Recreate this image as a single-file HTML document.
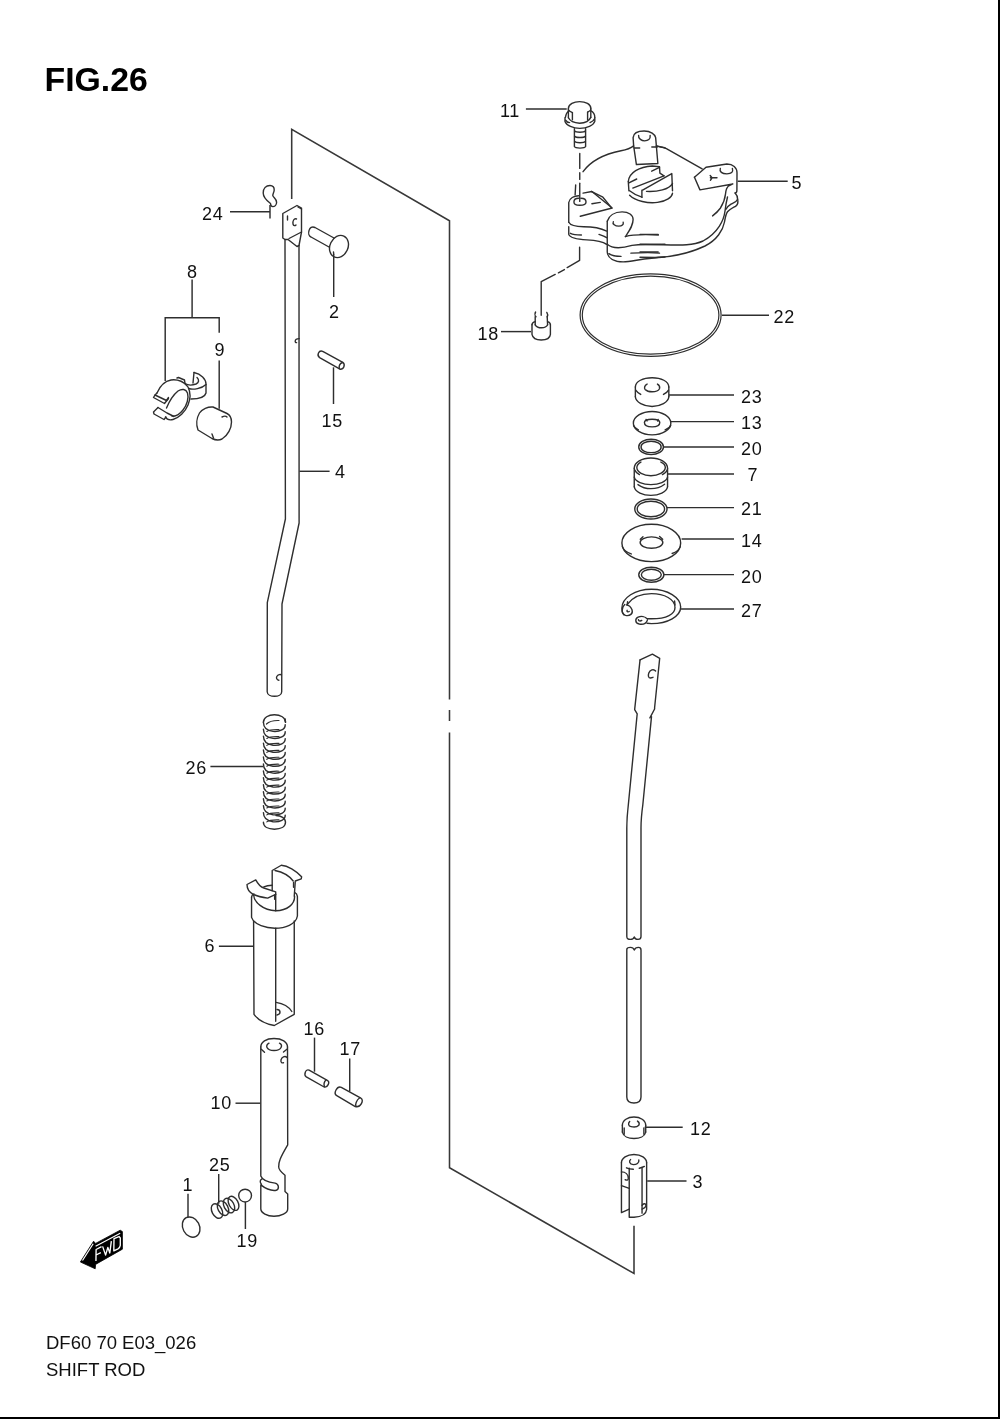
<!DOCTYPE html>
<html><head><meta charset="utf-8">
<style>
html,body{margin:0;padding:0;background:#fff;}
body{width:1000px;height:1419px;overflow:hidden;position:relative;}
svg{position:absolute;left:0;top:0;will-change:transform;}
text{font-family:"Liberation Sans",sans-serif;fill:#111;}
</style></head><body>
<svg width="1000" height="1419" viewBox="0 0 1000 1419">
<g id="frame" fill="none" stroke="#383838" stroke-width="1.55">
<rect x="998" y="0" width="2" height="1419" fill="#000" stroke="none"/>
<rect x="0" y="1417" width="1000" height="2" fill="#000" stroke="none"/>
<polyline points="291.7,199 291.7,129.4 449.5,220.8 449.5,699.5"/>
<line x1="449.5" y1="710" x2="449.5" y2="721"/>
<polyline points="449.5,732.5 449.5,1167.7 634,1273.5 634,1225.7"/>
</g>
<text x="44.5" y="91.3" font-size="33.8" font-weight="bold" style="fill:#000">FIG.26</text>
<text x="46" y="1349" font-size="18.5">DF60 70 E03_026</text>
<text x="46" y="1376" font-size="18.5">SHIFT ROD</text>
<g id="leaders" fill="none" stroke="#2e2e2e" stroke-width="1.45">
<line x1="230" y1="211.8" x2="270" y2="211.8"/><line x1="270" y1="205" x2="270" y2="218.6"/>
<line x1="333.7" y1="254" x2="333.7" y2="297"/>
<polyline points="165.2,381 165.2,317.8 219.2,317.8 219.2,332.8"/>
<line x1="192.1" y1="279.4" x2="192.1" y2="317.8"/>
<line x1="219.2" y1="360.4" x2="219.2" y2="408.7"/>
<line x1="333.5" y1="367.3" x2="333.5" y2="404"/>
<line x1="299.5" y1="471.3" x2="329.6" y2="471.3"/>
<line x1="210.4" y1="766.5" x2="263.4" y2="766.5"/>
<line x1="218.9" y1="946.3" x2="253.7" y2="946.3"/>
<line x1="235.5" y1="1103.2" x2="260.5" y2="1103.2"/>
<line x1="314.5" y1="1037.6" x2="314.5" y2="1071.7"/>
<line x1="349.7" y1="1058.5" x2="349.7" y2="1091.5"/>
<line x1="218.7" y1="1174" x2="218.7" y2="1203.7"/>
<line x1="188" y1="1193.8" x2="188" y2="1217"/>
<line x1="245.4" y1="1202" x2="245.4" y2="1229"/>
<line x1="525.9" y1="108.9" x2="566.7" y2="108.9"/>
<line x1="737.7" y1="181.3" x2="787.7" y2="181.3"/>
<line x1="722" y1="315.3" x2="769" y2="315.3"/>
<line x1="501" y1="331.6" x2="531" y2="331.6"/>
<line x1="669" y1="395" x2="734" y2="395"/>
<line x1="671" y1="421.6" x2="734" y2="421.6"/>
<line x1="663.6" y1="447" x2="734" y2="447"/>
<line x1="667.6" y1="474" x2="734" y2="474"/>
<line x1="667" y1="507.6" x2="734" y2="507.6"/>
<line x1="681.6" y1="539" x2="734" y2="539"/>
<line x1="663.6" y1="574.6" x2="734" y2="574.6"/>
<line x1="681" y1="609" x2="734" y2="609"/>
<line x1="644.7" y1="1127.3" x2="682.7" y2="1127.3"/>
<line x1="647.2" y1="1181" x2="686.5" y2="1181"/>
</g>
<g id="labels" font-size="18" letter-spacing="0.7">
<text x="202" y="220">24</text>
<text x="329" y="317.9">2</text>
<text x="187" y="277.5">8</text>
<text x="214.5" y="356.3">9</text>
<text x="321.5" y="426.5">15</text>
<text x="335" y="478.2">4</text>
<text x="185.5" y="774">26</text>
<text x="204.5" y="952.2">6</text>
<text x="210.5" y="1108.9">10</text>
<text x="303.5" y="1035.4">16</text>
<text x="339.5" y="1054.5">17</text>
<text x="209" y="1171.2">25</text>
<text x="182.5" y="1191">1</text>
<text x="236.5" y="1247.1">19</text>
<text x="500" y="117.2">11</text>
<text x="791.5" y="189.3">5</text>
<text x="773.5" y="322.5">22</text>
<text x="477.5" y="339.5">18</text>
<text x="741" y="402.5">23</text>
<text x="741" y="429.1">13</text>
<text x="741" y="454.5">20</text>
<text x="747.5" y="481.1">7</text>
<text x="741" y="514.9">21</text>
<text x="741" y="546.5">14</text>
<text x="741" y="582.5">20</text>
<text x="741" y="616.9">27</text>
<text x="690" y="1134.5">12</text>
<text x="692.5" y="1187.9">3</text>
</g>

<g id="partsL" fill="none" stroke="#2e2e2e" stroke-width="1.4" stroke-linejoin="round" stroke-linecap="round">
<!-- clip 24 -->
<path d="M270.5,203.5 C266.5,200.5 263.2,197.5 263.2,193 C263.2,188.5 266,185.5 270,185.5 C273,185.5 274.3,187.5 274.2,190 C274.1,192.3 272.6,193.8 272.8,195.6 C273.3,197.5 276.6,199 276.6,202.2 C276.6,205 274.6,206.6 272.8,206.6 C271.3,206.6 270.6,205.3 270.5,203.5"/>
<!-- rod 4 block -->
<path d="M282.8,213.5 L297,205.5 L301.5,208 L301.5,232 L299,245.5 L297,246.5 L288,239.5 L285,239.5 L282.8,238 Z"/>
<path d="M289,238.5 L301.5,232"/>
<path d="M287.5,216 L287.5,220"/>
<path d="M296.5,219 C294,218 292.5,221 293,224 C293.5,226 295,226 296,225"/>
<path d="M298,207 L301.5,209"/>
<!-- rod 4 -->
<path d="M285,239.5 L285.4,519 L267.3,602.6 L267.2,691.7 C267.2,694.8 271,696.3 274.5,696.3 C278,696.3 281.7,694.8 281.7,691.7 L282,604 L299.1,523 L299,245.5"/>
<path d="M299.2,338.6 C297,338.6 295.3,339.8 295.2,341.2 C295.2,342.3 296,342.8 296.6,342.6"/>
<path d="M281.5,674.9 C280.5,674 278,674.5 276.8,676.5 C276,678 276.8,679.8 278.8,680.3"/>
<!-- pin 2 -->
<path d="M334,238 L315,227.5 C309,224.5 306.5,235 311,237 L329,247"/>
<ellipse cx="339" cy="246.5" rx="9" ry="11.5" transform="rotate(25 339 246.5)"/>
<path d="M333.5,252 L333.7,254"/>
<!-- pin 15 -->
<path d="M323.2,351.6 L342.8,362.4 C345.5,364.5 344,369.5 340,369.2 L319.6,357.6 C316.5,355.5 318.5,349.5 323.2,351.6 Z"/>
<path d="M342.5,362.5 C340,363.5 338.8,366 339.3,368.6"/>
<!-- part 8 clip -->
<g transform="translate(145,365) scale(0.1)">
<path vector-effect="non-scaling-stroke" d="M120,280 C150,210 200,160 260,150 C330,140 400,170 430,220 C455,270 455,340 430,400 C400,470 340,530 280,545 C240,555 215,540 205,520"/>
<path vector-effect="non-scaling-stroke" d="M215,430 C240,370 280,300 330,260 C370,235 410,240 425,280 C440,330 420,400 380,450 C340,500 300,515 270,510"/>
<path vector-effect="non-scaling-stroke" d="M120,280 L100,300 L85,325 L195,385 L235,335"/>
<path vector-effect="non-scaling-stroke" d="M100,300 L215,355 L235,325"/>
<path vector-effect="non-scaling-stroke" d="M130,425 L85,470 L90,490 L190,545 L210,520"/>
<path vector-effect="non-scaling-stroke" d="M130,425 L220,480 L290,515"/>
<path vector-effect="non-scaling-stroke" d="M320,130 L335,125 L395,150 L400,185"/>
<path vector-effect="non-scaling-stroke" d="M400,185 C430,205 470,205 510,190 C540,175 545,150 520,125"/>
<path vector-effect="non-scaling-stroke" d="M490,75 C560,90 610,140 610,190 L610,280 C600,320 550,340 460,340"/>
<path vector-effect="non-scaling-stroke" d="M490,75 L480,180"/>
<path vector-effect="non-scaling-stroke" d="M440,235 C480,250 570,235 610,195"/>
</g>
<!-- part 9 -->
<path d="M213,407 C208,406.5 202,409 199.5,413 C196.5,418 196,425 198,430 L212,438.5 C215,440 219,440.5 222,439 C228,435.5 231.5,428 231.5,422 C231.5,417 229,414.5 227,413.5 L213,407 Z"/>
<path d="M222,417 C224,416 226,416 227,417"/>
<path d="M212,434 L213.5,438"/>
</g>

<g id="partsL2" fill="none" stroke="#2e2e2e" stroke-width="1.4" stroke-linejoin="round" stroke-linecap="round">
<!-- spring 26 -->
<path d="M263.4,722.2 C263.4,717.5 268.5,714.8 274.4,714.8 C280.5,714.8 285.5,717.5 285.5,722.2"/>
<path d="M266.5,724 C269,721.5 273,720.3 279,720.5" stroke-width="1.2"/>
<path d="M263.4,722.2 C263.5,727.2 267,730.7 273,731.4 C280,732.0 285.5,729.2 285.2,724.7"/>
<path d="M266.8,731.5 C269,729.8 273,729.3 279,729.5" stroke-width="1.15"/>
<path d="M263.4,729.2 C263.5,734.2 267,737.7 273,738.4 C280,739.0 285.5,736.2 285.2,731.7"/>
<path d="M266.8,738.5 C269,736.8 273,736.3 279,736.5" stroke-width="1.15"/>
<path d="M263.4,736.1 C263.5,741.1 267,744.6 273,745.3 C280,745.9 285.5,743.1 285.2,738.6"/>
<path d="M266.8,745.4 C269,743.7 273,743.2 279,743.4" stroke-width="1.15"/>
<path d="M263.4,743.1 C263.5,748.1 267,751.6 273,752.3 C280,752.9 285.5,750.1 285.2,745.6"/>
<path d="M266.8,752.4 C269,750.7 273,750.2 279,750.4" stroke-width="1.15"/>
<path d="M263.4,750.0 C263.5,755.0 267,758.5 273,759.2 C280,759.8 285.5,757.0 285.2,752.5"/>
<path d="M266.8,759.3 C269,757.6 273,757.1 279,757.3" stroke-width="1.15"/>
<path d="M263.4,757.0 C263.5,762.0 267,765.5 273,766.2 C280,766.8 285.5,764.0 285.2,759.5"/>
<path d="M266.8,766.2 C269,764.6 273,764.1 279,764.2" stroke-width="1.15"/>
<path d="M263.4,763.9 C263.5,768.9 267,772.4 273,773.1 C280,773.7 285.5,770.9 285.2,766.4"/>
<path d="M266.8,773.2 C269,771.5 273,771.0 279,771.2" stroke-width="1.15"/>
<path d="M263.4,770.9 C263.5,775.9 267,779.4 273,780.1 C280,780.6 285.5,777.9 285.2,773.4"/>
<path d="M266.8,780.1 C269,778.5 273,778.0 279,778.1" stroke-width="1.15"/>
<path d="M263.4,777.8 C263.5,782.8 267,786.3 273,787.0 C280,787.6 285.5,784.8 285.2,780.3"/>
<path d="M266.8,787.1 C269,785.4 273,784.9 279,785.1" stroke-width="1.15"/>
<path d="M263.4,784.8 C263.5,789.8 267,793.2 273,794.0 C280,794.5 285.5,791.8 285.2,787.2"/>
<path d="M266.8,794.0 C269,792.4 273,791.9 279,792.0" stroke-width="1.15"/>
<path d="M263.4,791.7 C263.5,796.7 267,800.2 273,800.9 C280,801.5 285.5,798.7 285.2,794.2"/>
<path d="M266.8,801.0 C269,799.3 273,798.8 279,799.0" stroke-width="1.15"/>
<path d="M263.4,798.7 C263.5,803.7 267,807.2 273,807.9 C280,808.5 285.5,805.7 285.2,801.2"/>
<path d="M266.8,808.0 C269,806.3 273,805.8 279,806.0" stroke-width="1.15"/>
<path d="M263.4,805.6 C263.5,810.6 267,814.1 273,814.8 C280,815.4 285.5,812.6 285.2,808.1"/>
<path d="M266.8,814.9 C269,813.2 273,812.7 279,812.9" stroke-width="1.15"/>
<path d="M263.4,812.6 C263.5,817.6 267,821.1 273,821.8 C280,822.4 285.5,819.6 285.2,815.1"/>
<path d="M266.8,821.9 C269,820.2 273,819.7 279,819.9" stroke-width="1.15"/>
<path d="M263.4,822.3 C263.4,827 268.5,829.2 274.4,829.2 C280.5,829.2 285.5,827 285.5,822.3 C285.5,818 281,815.6 276,815.5"/>
<path d="M285.2,719 L285.5,722.2"/>
<!-- part 6 -->
<g transform="translate(240,860) scale(0.07)">
<path vector-effect="non-scaling-stroke" d="M165,530 L165,820 C200,930 380,975 500,975 C640,975 800,920 820,800 L820,520 C815,490 800,470 785,465"/>
<path vector-effect="non-scaling-stroke" d="M165,530 C168,505 180,490 200,485"/>
<path vector-effect="non-scaling-stroke" d="M195,500 C200,600 330,720 510,725 C680,720 780,630 780,520"/>
<path vector-effect="non-scaling-stroke" d="M340,385 C370,370 420,360 460,360"/>
<path vector-effect="non-scaling-stroke" d="M100,350 L225,285 C260,350 300,390 340,400 L510,455 L510,490 L395,545 C300,530 220,505 190,490 C130,460 100,420 100,350 Z"/>
<path vector-effect="non-scaling-stroke" d="M460,440 L460,150 L590,75 C680,80 800,150 880,240 L875,270 L790,300 L775,520"/>
<path vector-effect="non-scaling-stroke" d="M500,150 C600,170 700,220 760,300"/>
<path vector-effect="non-scaling-stroke" d="M510,490 L510,725"/>
<path vector-effect="non-scaling-stroke" d="M495,500 L495,560 M765,320 L765,390"/>
</g>
<path d="M275.7,928.3 L275.7,1021.3"/>
<path d="M253.6,921 L254,1014.3 C258,1020 266,1024 274.3,1025.5 L294.25,1014.3 L294.25,921"/>
<path d="M276,1002.4 C283,1003.5 289,1007 291.8,1011.5"/>
<path d="M277,1009.5 C280.5,1009.5 281.5,1014 277,1015"/>
<!-- part 10 -->
<path d="M260.8,1047 L260.8,1175.9 C262,1179 266,1182 275.1,1183.1 C279,1184 279.5,1189 276.3,1190.3 C272,1191 266,1189 260.8,1184.9 L260.8,1208.9 C261,1213 267,1216.3 274,1216.3 C281,1216.3 287.7,1213 287.7,1208.9 L287.7,1193.9 L285,1191.5 L285,1175.3 C281,1172 278.5,1169.5 278.7,1166.9 C278.5,1162 280,1158 287.7,1144.8 L287.5,1047"/>
<path d="M261.5,1184.5 C259.5,1182 260,1180 262,1178.9"/>
<path d="M260.8,1047 C260.8,1042 266,1038.5 274,1038.5 C282,1038.5 287.5,1042 287.5,1047"/>
<path d="M261,1049 L264.5,1052.2"/>
<path d="M283.5,1052 L287.2,1049"/>
<path d="M269,1043.2 C265,1045 266,1050.5 274,1050.5 C282,1050.5 283,1045 279.5,1043.2"/>
<path d="M287,1057.5 C285,1055.5 281.5,1057 281,1060 C280.5,1062.5 282,1063.2 283.5,1062.8"/>
<!-- pin 16 -->
<path d="M309.1,1070.2 L327.3,1080.3 C330.5,1082 327.5,1088 324.15,1087 L306.3,1076.8 C303.5,1075 305.5,1068.5 309.1,1070.2 Z"/>
<path d="M326,1080 C324,1081.5 323.5,1085 324.5,1086.5"/>
<!-- pin 17 -->
<path d="M341.3,1087.3 L360.9,1098.15 C364.5,1100 360.5,1108 355.3,1106.55 L336.75,1095.7 C333,1093.5 337,1085.5 341.3,1087.3 Z"/>
<path d="M359.5,1098 C356.5,1100 355,1104.5 356,1106"/>
<!-- part 1 -->
<ellipse cx="191.15" cy="1227.1" rx="8.3" ry="10.6" transform="rotate(-28 191.15 1227.1)"/>
<!-- spring 25 -->
<ellipse cx="217" cy="1211" rx="5" ry="7.8" transform="rotate(-28 217 1211)"/>
<ellipse cx="223" cy="1208.2" rx="5" ry="7.8" transform="rotate(-28 223 1208.2)"/>
<ellipse cx="229" cy="1205.6" rx="5" ry="7.8" transform="rotate(-28 229 1205.6)"/>
<ellipse cx="233.5" cy="1203.3" rx="4.6" ry="7.6" transform="rotate(-28 233.5 1203.3)"/>
<!-- ball 19 -->
<circle cx="245.1" cy="1195.6" r="6.4"/>
</g>
<g id="fwd">
<path d="M80.4,1262 L93.6,1241.2 L95.6,1243.4 L120.2,1230.2 L122.4,1231.6 L122.4,1249.2 L95.6,1264.4 L95.2,1268.8 Z" fill="#000" stroke="#000" stroke-width="0.8" stroke-linejoin="round"/>
<path d="M82.5,1260.5 L93.2,1243.8 M95.6,1246.2 L120.2,1233.2" stroke="#fff" stroke-width="1.2" fill="none"/>
<path d="M95.95,1261 L96.1,1249.5 L101.55,1246.7 M96.5,1254.75 L100.85,1252.65 M102.6,1246.35 L105.6,1255.1 L107.85,1247.4 L109.8,1253 L111.35,1241.1 M113.8,1250.9 L114,1238.65 L119.05,1236.55 L120.3,1238 L120.3,1245.3 C120,1247 119.5,1248 118,1248.8 Z" stroke="#fff" stroke-width="1.35" fill="none" stroke-linejoin="round"/>
</g>
<g id="housing5" fill="none" stroke="#2e2e2e" stroke-width="1.4" stroke-linejoin="round" stroke-linecap="round">
<g transform="translate(555,120) scale(0.11)">
<path vector-effect="non-scaling-stroke" d="M225,305 L225,440"/>
<path vector-effect="non-scaling-stroke" d="M225,480 L225,540"/>
<path vector-effect="non-scaling-stroke" d="M225,575 L225,740"/>
<path vector-effect="non-scaling-stroke" d="M188,590 L183,680"/>
<path vector-effect="non-scaling-stroke" d="M125,930 L125,750 C130,710 175,690 215,688"/>
<path vector-effect="non-scaling-stroke" d="M255,665 L335,650 L520,800 L230,875"/>
<path vector-effect="non-scaling-stroke" d="M172,745 C172,722 195,712 215,712 M235,712 C262,712 282,725 282,745 C282,765 255,775 225,775 C195,775 172,765 172,745"/>
<path vector-effect="non-scaling-stroke" d="M125,930 C140,960 200,970 260,970 C350,970 430,990 470,1010"/>
<path vector-effect="non-scaling-stroke" d="M125,970 L125,1040 C135,1070 200,1085 290,1090 C380,1095 440,1110 470,1130"/>
<path vector-effect="non-scaling-stroke" d="M140,1030 C160,1040 200,1045 240,1045"/>
<path vector-effect="non-scaling-stroke" d="M400,1040 C430,1050 455,1060 470,1070"/>
<path vector-effect="non-scaling-stroke" d="M475,920 C490,870 540,835 610,835 C670,835 710,865 710,905 C710,960 680,1000 640,1060"/>
<path vector-effect="non-scaling-stroke" d="M530,925 C520,945 545,965 580,965 C610,965 625,950 620,930"/>
<path vector-effect="non-scaling-stroke" d="M475,920 L475,1200 C480,1260 540,1290 620,1290 C700,1290 800,1255 1000,1245"/>
<path vector-effect="non-scaling-stroke" d="M640,1060 C700,1040 820,1040 940,1045"/>
<path vector-effect="non-scaling-stroke" d="M475,1130 C520,1170 600,1170 700,1140 C800,1130 900,1130 1000,1130"/>
<path vector-effect="non-scaling-stroke" d="M490,1215 C520,1235 560,1240 600,1240"/>
<path vector-effect="non-scaling-stroke" d="M690,1210 C800,1205 900,1205 950,1210"/>
<path vector-effect="non-scaling-stroke" d="M255,470 C320,380 450,310 600,280 C650,270 690,255 715,235"/>
<path vector-effect="non-scaling-stroke" d="M920,235 C950,245 980,250 1000,252"/>
<path vector-effect="non-scaling-stroke" d="M715,235 L710,160 C715,110 760,100 810,100 C870,100 910,130 915,160 L935,395 L740,405 L715,235"/>
<path vector-effect="non-scaling-stroke" d="M760,140 C755,170 790,190 815,190 C845,190 870,175 865,140"/>
<path vector-effect="non-scaling-stroke" d="M720,255 L770,255 M880,245 L930,245"/>
</g>
<g transform="translate(640,120) scale(0.11)">
<path vector-effect="non-scaling-stroke" d="M150,235 C180,240 220,250 240,260 L565,445"/>
<path vector-effect="non-scaling-stroke" d="M730,440 C720,470 745,490 790,490 C830,490 850,475 840,440"/>
<path vector-effect="non-scaling-stroke" d="M640,525 L700,525 M638,505 L655,525 L640,548"/>
<path vector-effect="non-scaling-stroke" d="M0,1040 L165,1040 M0,1200 L165,1200"/>
</g>
<path d="M694.45,177.2 L706,167.3 L726.9,164 C733,164 737,167.5 737,172.8 L736.9,190.25 C736.9,192 736,193 735.1,193"/>
<path d="M694.45,177.2 L699.95,189.85 L732.85,183.95 L728.8,185.75 C726.5,187.5 725.8,190 725.5,194 C725,199 723,204 720.3,208.25 C718,211.5 715,214 712.6,215.9"/>
<path d="M735.1,193 C737,195 737.7,197 737.6,199.2 C736.5,202 733,203 731,204.2 C728.5,205.7 726.8,207.5 725.8,209.5"/>
<path d="M737.6,199.2 C738.2,202 737.8,205 735.5,206.3 C732.5,208 729.5,209.5 727.5,211.8 C725.8,214 725.2,218 724.5,222 C723,230 717,240 705,246 C690,253 675,257 655,257.5 L640,257.2"/>
<path d="M727.5,197 C726,203 725.5,207 725,211 C724,220 718,233 703,241 C690,247 675,244.5 640,244.3"/>
<path d="M628.3,181.6 C629,172.5 639.3,166.7 652.3,166 L659.5,166.7 L659.9,173.2 L664,175.8"/>
<path d="M651.7,171.2 L659.5,167.3"/>
<path d="M632.8,188.1 L664,175.8"/>
<path d="M642.6,190.1 L671.8,173.6 L672.5,190.7"/>
<path d="M646.5,191.4 C657.5,192 669.2,189.4 672.5,183.6"/>
<path d="M628.9,182.9 L636.7,179"/>
<path d="M628.3,181.6 L628.9,190.7"/>
<path d="M629.6,195.3 C635.4,201.1 648.4,203.7 657.5,202.4 C666.6,201.1 671.8,197.2 672.5,193.3"/>
<path d="M641.9,190.1 L641.9,197.2"/>
<path d="M629.6,190.7 C632.8,193.3 638,195.9 641.9,197.2"/>
<path d="M591.2,191.4 L602.9,197.2 L611.4,207.6"/>
<path d="M591.9,203.7 L600.3,202.4"/>
</g>
<g id="bolt11" fill="none" stroke="#2e2e2e" stroke-width="1.4" stroke-linejoin="round" stroke-linecap="round">
<g transform="translate(560,95) scale(0.04)">
<path vector-effect="non-scaling-stroke" d="M210,340 C210,230 350,165 490,165 C640,165 770,230 770,330"/>
<path vector-effect="non-scaling-stroke" d="M210,340 L210,570 M770,330 L770,560"/>
<path vector-effect="non-scaling-stroke" d="M210,370 C240,410 290,430 310,440 M690,430 C730,410 760,390 770,370"/>
<path vector-effect="non-scaling-stroke" d="M310,440 L310,620 M690,430 L690,620"/>
<path vector-effect="non-scaling-stroke" d="M210,570 C250,650 370,700 490,705 C620,700 730,650 770,560"/>
<path vector-effect="non-scaling-stroke" d="M135,560 C150,470 190,420 225,395 M765,390 C830,420 870,480 870,560"/>
<path vector-effect="non-scaling-stroke" d="M125,570 L125,660 C160,760 330,830 495,835 C670,830 840,760 870,660 L870,570"/>
<path vector-effect="non-scaling-stroke" d="M140,630 C170,680 210,690 240,690 M750,690 C800,670 850,630 860,600"/>
<path vector-effect="non-scaling-stroke" d="M360,840 L360,1290 C380,1340 620,1340 640,1290 L640,840"/>
<path vector-effect="non-scaling-stroke" d="M365,900 C400,940 600,940 635,900"/>
<path vector-effect="non-scaling-stroke" d="M365,1030 C400,1075 600,1075 635,1030"/>
<path vector-effect="non-scaling-stroke" d="M365,1160 C400,1205 600,1205 635,1160"/>
</g>
</g>
<g id="partsR" fill="none" stroke="#2e2e2e" stroke-width="1.4" stroke-linejoin="round" stroke-linecap="round">
<path d="M579.6,247.2 L579.6,260.4 L567.2,267.6"/>
<path d="M564.4,269.6 L558.4,272.8"/>
<path d="M555.2,274.4 L541.2,281.6 L541.2,315.2"/>
<g transform="translate(520,240) scale(0.08)">
<path vector-effect="non-scaling-stroke" d="M195,900 C185,915 185,945 200,960"/>
<path vector-effect="non-scaling-stroke" d="M335,905 C345,920 348,945 340,960"/>
<path vector-effect="non-scaling-stroke" d="M190,960 L190,1060 M340,960 L345,1060"/>
<path vector-effect="non-scaling-stroke" d="M190,1060 C220,1110 320,1110 345,1060"/>
<path vector-effect="non-scaling-stroke" d="M150,1060 C150,1035 170,1025 190,1020 M345,1020 C365,1025 380,1040 380,1060"/>
<path vector-effect="non-scaling-stroke" d="M150,1060 L150,1180 C160,1235 220,1250 265,1250 C330,1250 375,1230 380,1180 L380,1060"/>
</g>
<ellipse cx="650.6" cy="315.1" rx="70.5" ry="41.2" stroke-width="1.2"/>
<ellipse cx="650.6" cy="315.1" rx="68.3" ry="39" stroke-width="1.2"/>
<g transform="translate(625,370) scale(0.06691)">
<path vector-effect="non-scaling-stroke" d="M155,255 C155,170 270,115 405,115 C540,115 655,170 655,255"/>
<path vector-effect="non-scaling-stroke" d="M160,300 C180,330 210,350 235,365 M575,365 C610,345 640,320 650,300"/>
<path vector-effect="non-scaling-stroke" d="M155,255 L155,400 M655,255 L655,400"/>
<path vector-effect="non-scaling-stroke" d="M155,400 C160,480 280,545 405,545 C530,545 650,480 655,400"/>
<path vector-effect="non-scaling-stroke" d="M330,210 C290,230 285,270 300,290 C330,320 380,325 405,325 C450,325 500,310 515,280 C525,250 510,225 485,210"/>
<path vector-effect="non-scaling-stroke" d="M125,795 C125,700 250,620 405,620 C560,620 685,700 685,795 C685,890 560,970 405,970 C250,970 125,890 125,795 Z"/>
<path vector-effect="non-scaling-stroke" d="M128,830 C140,860 165,880 200,895 M600,895 C640,880 670,860 682,830"/>
<path vector-effect="non-scaling-stroke" d="M290,785 C290,755 340,735 405,735 C470,735 520,755 520,785 C520,825 470,850 405,850 C340,850 290,825 290,785 Z"/>
<path vector-effect="non-scaling-stroke" d="M315,738 L330,762 M495,738 L488,762"/>
<path vector-effect="non-scaling-stroke" d="M205,1150 C205,1085 290,1035 390,1035 C490,1035 575,1085 575,1150 C575,1215 490,1265 390,1265 C290,1265 205,1215 205,1150 Z"/>
<path vector-effect="non-scaling-stroke" d="M240,1150 C240,1100 305,1065 390,1065 C475,1065 540,1100 540,1150 C540,1200 475,1235 390,1235 C305,1235 240,1200 240,1150 Z"/>
</g>
<g transform="translate(625,455) scale(0.074)">
<path vector-effect="non-scaling-stroke" d="M125,180 C125,100 230,40 350,40 C470,40 575,100 575,180"/>
<path vector-effect="non-scaling-stroke" d="M215,95 C180,115 160,140 160,170 C160,230 250,280 350,280 C450,280 540,230 545,170 C545,140 520,110 485,95"/>
<path vector-effect="non-scaling-stroke" d="M130,200 C140,230 170,250 195,265 M505,265 C540,245 565,220 570,200"/>
<path vector-effect="non-scaling-stroke" d="M125,180 L125,430 M575,180 L575,430"/>
<path vector-effect="non-scaling-stroke" d="M125,300 C140,360 240,400 350,400 C460,400 560,360 575,300"/>
<path vector-effect="non-scaling-stroke" d="M175,400 C230,440 290,455 350,455 C420,455 490,430 535,395"/>
<path vector-effect="non-scaling-stroke" d="M125,430 C140,500 240,545 350,545 C460,545 560,500 575,430"/>
<path vector-effect="non-scaling-stroke" d="M132,730 C132,655 230,595 350,595 C470,595 568,655 568,730 C568,805 470,865 350,865 C230,865 132,805 132,730 Z"/>
<path vector-effect="non-scaling-stroke" d="M165,730 C165,670 250,625 350,625 C450,625 535,670 535,730 C535,790 450,835 350,835 C250,835 165,790 165,730 Z"/>
</g>
<g transform="translate(615,515) scale(0.081081)">
<path vector-effect="non-scaling-stroke" d="M85,345 C85,218 248,115 450,115 C652,115 810,218 810,345 C810,472 652,575 450,575 C248,575 85,472 85,345 Z"/>
<path vector-effect="non-scaling-stroke" d="M92,390 C105,430 140,460 200,480 M705,475 C760,455 795,420 805,390"/>
<path vector-effect="non-scaling-stroke" d="M310,340 C310,300 372,270 450,270 C528,270 590,300 590,340 C590,380 528,410 450,410 C372,410 310,380 310,340 Z"/>
<path vector-effect="non-scaling-stroke" d="M345,268 L312,300 M550,265 L588,300"/>
<path vector-effect="non-scaling-stroke" d="M293,737 C293,685 362,645 448,645 C534,645 603,685 603,737 C603,789 534,830 448,830 C362,830 293,789 293,737 Z"/>
<path vector-effect="non-scaling-stroke" d="M325,737 C325,700 380,670 448,670 C516,670 571,700 571,737 C571,774 516,805 448,805 C380,805 325,774 325,737 Z"/>
<path vector-effect="non-scaling-stroke" d="M110,1230 C90,1210 85,1180 85,1150 C85,1020 250,915 450,915 C650,915 810,1020 810,1135 C810,1250 650,1340 450,1340 L395,1335"/>
<path vector-effect="non-scaling-stroke" d="M155,1100 C220,1010 330,970 450,970 C610,970 740,1040 740,1140 C740,1220 640,1280 450,1280 L400,1280"/>
<path vector-effect="non-scaling-stroke" d="M120,1105 C80,1140 70,1220 130,1238 C185,1250 225,1215 210,1170 C195,1130 165,1110 140,1108"/>
<path vector-effect="non-scaling-stroke" d="M400,1282 C370,1250 320,1245 285,1260 C245,1280 245,1335 300,1345 C345,1352 385,1335 398,1300"/>
<path vector-effect="non-scaling-stroke" d="M150,1175 C140,1190 160,1200 175,1190"/>
<path vector-effect="non-scaling-stroke" d="M290,1290 C285,1305 310,1315 330,1300"/>
<path vector-effect="non-scaling-stroke" d="M155,1070 L150,1110 M735,1060 L740,1110"/>
</g>
<path d="M640.05,659.9 L652.4,654.2 L659.7,658.3 L654.6,707.8 L654.6,709 L649.9,717.9"/>
<path d="M640.05,659.9 L634.65,709.7 L637.2,713.8 L628.3,805 Q626.8,818 626.8,828 L626.8,936.5 C626.8,939 628.5,939.5 630.5,939.4 C632.5,939.3 633.8,938.5 634.3,937 C634.8,938.5 636,939.4 638,939.4 C640,939.4 641,938.5 641,936.5 L641,828 Q641,818 642.8,805 L651.5,716.65"/>
<path d="M655.6,671 C653.5,668.5 650,670 648.8,673 C647.8,676 648.5,678 650.5,678 L653,677.3"/>
<path d="M626.8,1097 L626.8,949.5 C626.8,948 628,947.4 630.5,947.4 C632.5,947.4 633.5,948 634.3,950 C635,948 636.5,947.4 638.5,947.4 C640.5,947.4 641,948.5 641,950 L641,1097 C641,1101 638,1103 634,1103 C630,1103 626.8,1101 626.8,1097 Z"/>
<g transform="translate(610,1095) scale(0.091575)">
<path vector-effect="non-scaling-stroke" d="M135,330 C135,275 195,240 262,240 C330,240 390,275 390,330"/>
<path vector-effect="non-scaling-stroke" d="M135,330 L135,405 M390,330 L390,405"/>
<path vector-effect="non-scaling-stroke" d="M135,405 C145,450 200,475 262,475 C325,475 380,450 390,405"/>
<path vector-effect="non-scaling-stroke" d="M155,360 L155,428 M370,360 L370,428"/>
<path vector-effect="non-scaling-stroke" d="M215,290 C195,310 200,340 230,345 C260,352 300,345 315,330 C325,310 315,295 300,285"/>
<path vector-effect="non-scaling-stroke" d="M125,740 C125,690 185,650 262,650 C340,650 400,690 400,740"/>
<path vector-effect="non-scaling-stroke" d="M125,740 L125,1285 L210,1245"/>
<path vector-effect="non-scaling-stroke" d="M400,740 L400,1250 C395,1300 340,1330 262,1335 L210,1335 L210,800"/>
<path vector-effect="non-scaling-stroke" d="M225,705 C205,720 210,755 255,760 C290,760 320,745 315,710"/>
<path vector-effect="non-scaling-stroke" d="M180,795 C200,805 230,810 255,810 M320,800 C340,795 360,790 375,780"/>
<path vector-effect="non-scaling-stroke" d="M125,840 C170,840 200,870 200,910 C200,930 185,935 165,925"/>
<path vector-effect="non-scaling-stroke" d="M125,990 L210,1020"/>
<path vector-effect="non-scaling-stroke" d="M350,790 L350,1290"/>
<path vector-effect="non-scaling-stroke" d="M350,1205 C362,1185 388,1180 392,1200 C396,1222 372,1242 350,1246"/>
</g>
</g>
</svg>
</body></html>
